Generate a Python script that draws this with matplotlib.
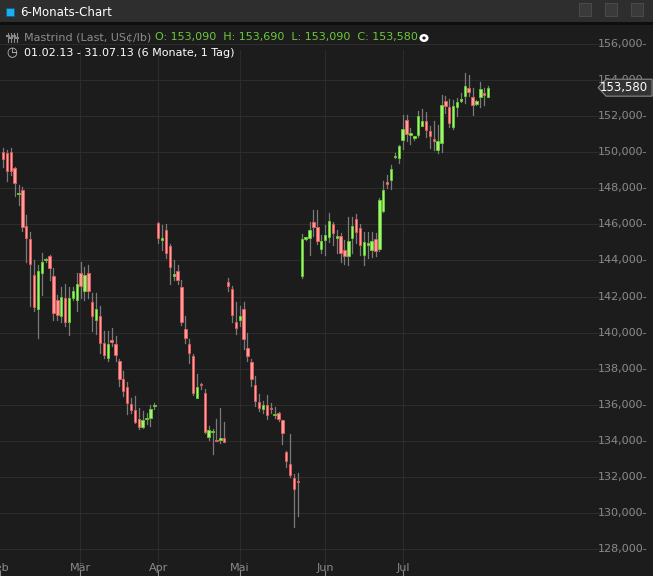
import matplotlib
matplotlib.use("Agg")
import matplotlib.pyplot as plt
from matplotlib.patches import Rectangle, Polygon, Circle
import numpy as np

# daily candles (thousands of US cents / lb), one per trading day from 01.02.13
opens = [150.0, 149.94, 150.0, 149.11, 147.68, 147.89, 145.89, 145.17, 143.22, 141.33,
         143.28, 144.0, 144.22, 143.11, 141.83, 140.94, 141.94, 140.56, 141.94, 141.78,
         143.33, 142.33, 143.28, 141.72, 140.67, 140.94, 139.44, 138.61, 139.52, 139.39,
         138.44, 137.44, 137.0, 136.06, 135.72, 135.22, 134.78, 135.2, 135.28, 135.92,
         146.06, 145.16, 145.67, 144.78, 143.15, 143.39, 142.5, 140.22, 139.39, 138.72,
         136.39, 137.13, 136.67, 134.22, 134.48, 134.02, 134.06, 134.17,
         142.78, 142.39, 140.61, 140.67, 141.33, 139.17, 138.39, 137.11, 136.17, 135.78,
         136.0, 135.8, 135.42, 135.56, 135.17, 133.39, 132.72, 131.94, 131.74,
         143.11, 145.2, 145.22, 146.11, 145.83, 144.61, 145.11, 145.28, 146.0, 145.26,
         145.33, 144.56, 144.22, 145.22, 146.28, 145.78, 144.28, 144.87, 144.56, 145.17,
         144.61, 146.72, 148.3, 148.44, 149.72, 149.67, 150.67, 151.78, 150.98, 150.78,
         150.94, 151.44, 151.72, 151.17, 150.72, 150.11, 150.5, 152.83, 152.5, 151.39,
         152.5, 152.83, 153.11, 153.56, 153.06, 152.67, 153.06, 153.24, 153.09]
highs = [150.22, 150.11, 150.22, 149.17, 148.17, 148.06, 146.5, 145.56, 144.0, 143.72,
         144.39, 144.11, 144.28, 143.56, 142.06, 142.5, 142.72, 142.5, 142.5, 143.33,
         143.89, 143.61, 143.72, 142.17, 142.22, 141.5, 140.11, 140.11, 140.28, 139.83,
         138.56, 137.89, 137.28, 136.39, 136.5, 135.83, 135.67, 135.56, 136.0, 136.11,
         146.11, 145.94, 146.0, 144.89, 144.0, 143.72, 142.89, 140.94, 139.67, 138.83,
         137.72, 137.22, 136.89, 134.83, 134.67, 135.22, 135.83, 135.06,
         143.0, 142.61, 141.67, 141.5, 141.67, 140.0, 138.56, 137.61, 136.61, 136.22,
         136.56, 136.11, 135.89, 135.61, 135.17, 133.44, 134.39, 132.17, 132.22,
         145.44, 145.3, 146.11, 146.78, 146.78, 145.39, 145.94, 146.61, 146.11, 145.67,
         145.5, 145.11, 146.39, 146.39, 146.56, 146.0, 145.56, 145.56, 145.56, 145.5,
         147.44, 148.39, 148.72, 149.28, 149.94, 150.39, 152.06, 152.06, 151.33, 150.9,
         152.28, 152.39, 152.22, 151.44, 151.72, 151.5, 153.17, 153.11, 152.94, 152.89,
         153.0, 153.28, 154.39, 154.28, 153.56, 152.9, 153.89, 153.56, 153.69]
lows = [149.17, 148.39, 148.72, 147.56, 147.06, 145.61, 143.89, 141.5, 141.22, 139.72,
        142.06, 143.89, 142.89, 140.67, 140.67, 140.61, 140.39, 139.89, 141.78, 141.22,
        141.94, 141.83, 141.94, 140.11, 139.94, 138.89, 138.61, 138.44, 139.28, 138.44,
        137.06, 136.5, 135.5, 135.56, 135.0, 134.67, 134.72, 134.94, 134.83, 135.78,
        144.94, 144.56, 144.11, 142.72, 142.89, 142.72, 140.44, 139.44, 138.33, 136.56,
        136.39, 136.89, 134.44, 134.06, 133.28, 134.0, 133.89, 133.94,
        142.33, 140.61, 139.94, 140.39, 139.11, 138.44, 137.06, 135.94, 135.67, 135.56,
        135.22, 135.56, 135.28, 135.11, 133.83, 132.56, 132.0, 129.22, 129.83,
        143.0, 145.15, 144.28, 145.33, 144.89, 144.39, 144.28, 145.0, 144.83, 144.44,
        143.89, 143.83, 143.72, 144.44, 144.94, 144.28, 143.72, 144.11, 144.17, 144.22,
        144.5, 146.67, 148.0, 147.94, 149.67, 149.39, 150.17, 150.61, 150.44, 150.7,
        150.83, 151.44, 150.83, 150.22, 150.11, 149.94, 150.0, 152.17, 151.39, 151.28,
        152.0, 152.78, 152.72, 153.11, 152.06, 152.6, 152.5, 152.61, 153.09]
closes = [149.61, 148.94, 148.94, 148.28, 147.72, 145.83, 145.22, 143.83, 141.44, 143.44,
          143.94, 144.02, 143.56, 141.11, 141.0, 142.0, 140.61, 141.94, 142.28, 142.67,
          142.61, 143.22, 142.28, 140.94, 141.33, 139.44, 138.78, 139.39, 139.48, 138.78,
          137.44, 136.78, 136.11, 135.72, 135.06, 134.78, 135.17, 135.24, 135.78, 135.96,
          145.22, 145.2, 144.39, 143.61, 143.19, 142.89, 140.56, 139.72, 138.89, 136.67,
          137.0, 137.09, 134.5, 134.61, 134.52, 133.98, 134.17, 133.94,
          142.56, 141.0, 140.28, 140.94, 139.67, 138.72, 137.44, 136.22, 135.83, 136.0,
          135.44, 135.76, 135.46, 135.22, 134.44, 132.89, 132.11, 131.33, 131.7,
          145.17, 145.24, 145.67, 145.83, 145.06, 145.06, 145.39, 146.17, 145.5, 145.3,
          144.39, 144.22, 145.06, 145.89, 145.56, 144.83, 145.0, 144.91, 145.06, 144.5,
          147.33, 147.89, 148.26, 149.06, 149.78, 150.33, 151.28, 151.0, 151.02, 150.89,
          152.0, 151.72, 151.22, 150.89, 150.61, 150.61, 152.61, 152.56, 151.61, 152.56,
          152.78, 152.94, 153.67, 153.33, 152.61, 152.83, 153.5, 153.2, 153.58]

month_labels = ["Feb", "Mär", "Apr", "Mai", "Jun", "Jul"]
month_pos = [-0.77, 19.85, 40.0, 61.1, 83.0, 103.1]
price_ticks = list(range(128, 157, 2))
last_price = closes[-1]

BG = "#1c1c1c"
GRID = "#2c2c2c"
UP_FILL, UP_EDGE = "#a8ee7c", "#60c82e"
DN_FILL, DN_EDGE = "#ff9c9c", "#e05a5a"
WICK = "#7a7a7a"

fig = plt.figure(figsize=(6.53, 5.76), dpi=100, facecolor=BG)
ax = fig.add_axes([0, 0, 1, 548 / 576])
ax.set_facecolor(BG)
ax.set_xlim(-0.77, 167.5)
ax.set_ylim(126.5, 156.89)
ax.axis("off")

fx = lambda px: -0.77 + px / 3.88

# grid
for p in price_ticks:
    ax.axhline(p, color=GRID, lw=0.8, xmax=0.985, zorder=0)
    ax.text(fx(647), p, f"{p},000-", color="#8a8a8a", fontsize=8,
            ha="right", va="center", zorder=5)
for m in month_pos[1:]:
    ax.axvline(m, color=GRID, lw=0.8, ymax=0.96, zorder=0)
for lbl, m in zip(month_labels, month_pos):
    ax.text(m, 126.95, lbl, color="#8a8a8a", fontsize=8, ha="center", va="center")
    ax.plot([m, m], [126.5, 126.75], color="#8a8a8a", lw=0.8)

# candles
w = 0.62
for i, (o, h, l, c) in enumerate(zip(opens, highs, lows, closes)):
    up = c >= o
    ax.plot([i, i], [l, h], color=WICK, lw=0.9, zorder=2)
    lo, hi = min(o, c), max(o, c)
    ht = max(hi - lo, 0.08)
    ax.add_patch(Rectangle((i - w / 2, lo), w, ht, facecolor=UP_FILL if up else DN_FILL,
                           edgecolor=UP_EDGE if up else DN_EDGE, lw=0.7, zorder=3))

# last price marker
ax.add_patch(Polygon([(fx(598), last_price), (fx(606), last_price + 0.47),
                      (fx(652), last_price + 0.47), (fx(652), last_price - 0.47),
                      (fx(606), last_price - 0.47)], closed=True,
                     facecolor="#333333", edgecolor="#8a8a8a", lw=0.8, zorder=6))
ax.text(fx(648), last_price, f"{last_price:.3f}".replace(".", ","), color="white",
        fontsize=8.5, ha="right", va="center", zorder=7)

# title bar
fig.patches.append(Rectangle((0, 1 - 22 / 576), 1, 22 / 576, transform=fig.transFigure,
                             facecolor="#2e2e2e", edgecolor="none", zorder=0))
fig.patches.append(Rectangle((0, 1 - 25 / 576), 1, 3 / 576, transform=fig.transFigure,
                             facecolor="#0e0e0e", edgecolor="none", zorder=0))
fig.patches.append(Rectangle((6 / 653, 1 - 16 / 576), 8 / 653, 8 / 576, transform=fig.transFigure,
                             facecolor="#1ab0f0", edgecolor="#0a6090", lw=0.6))
fig.text(20 / 653, 1 - 12 / 576, "6-Monats-Chart", color="white", fontsize=8.5, va="center")
for px in (585, 611, 637):
    fig.patches.append(Rectangle(((px - 6) / 653, 1 - 16 / 576), 12 / 653, 13 / 576,
                                 transform=fig.transFigure, facecolor="#3a3a3a",
                                 edgecolor="#555555", lw=0.5))

# info rows: small "sliders" icon drawn as lines
for k, px in enumerate((8, 11, 14, 17)):
    fig.add_artist(plt.Line2D([px / 653, px / 653], [1 - 42 / 576, 1 - 33 / 576],
                              transform=fig.transFigure, color="#888888", lw=0.8))
    yk = 1 - (36 + 2 * (k % 2)) / 576
    fig.add_artist(plt.Line2D([(px - 1) / 653, (px + 1) / 653], [yk, yk],
                              transform=fig.transFigure, color="#888888", lw=1.5))
fig.text(24 / 653, 1 - 37 / 576, "Mastrind (Last, US¢/lb)", color="#8c8c8c",
         fontsize=8, va="center")
fig.text(155 / 653, 1 - 37 / 576,
         f"O: {opens[-1]:.3f}  H: {highs[-1]:.3f}  L: {lows[-1]:.3f}  C: {closes[-1]:.3f}".replace(".", ","),
         color="#6cc83a", fontsize=8, va="center")
fig.patches.append(Circle((424 / 653, 1 - 38 / 576), 4 / 576, transform=fig.transFigure,
                          facecolor="white", edgecolor="none"))
fig.patches.append(Circle((424 / 653, 1 - 38 / 576), 1.5 / 576, transform=fig.transFigure,
                          facecolor="#1c1c1c", edgecolor="none"))
fig.text(6 / 653, 1 - 53 / 576, "◷", color="#cccccc", fontsize=9, va="center")
fig.text(24 / 653, 1 - 53 / 576, "01.02.13 - 31.07.13 (6 Monate, 1 Tag)", color="white",
         fontsize=8, va="center")

fig.savefig("out.png", dpi=100, facecolor=BG)
